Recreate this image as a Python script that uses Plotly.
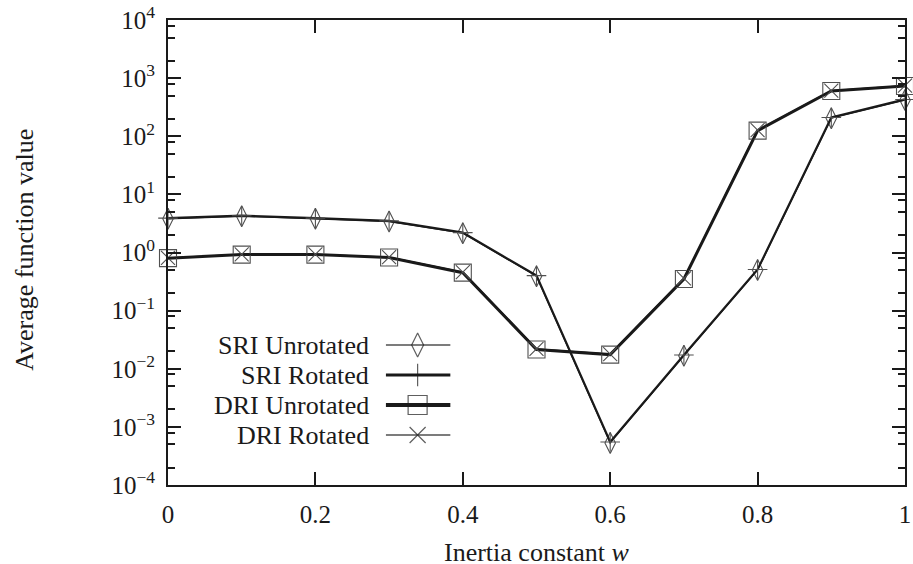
import plotly.graph_objects as go

# ---- data ----
w = [0.0, 0.1, 0.2, 0.3, 0.4, 0.5, 0.6, 0.7, 0.8, 0.9, 1.0]
sri_unrotated = [3.8, 4.2, 3.8, 3.4, 2.15, 0.39, 5.3e-4, 0.0168, 0.50, 205, 420]
sri_rotated   = [3.9, 4.3, 3.9, 3.5, 2.2, 0.40, 5.5e-4, 0.0172, 0.51, 210, 430]
dri_unrotated = [0.80, 0.92, 0.92, 0.82, 0.45, 0.0215, 0.0175, 0.35, 125, 600, 730]
dri_rotated   = [0.81, 0.93, 0.93, 0.83, 0.46, 0.0220, 0.0178, 0.36, 128, 610, 740]

series_names = ["SRI Unrotated", "SRI Rotated", "DRI Unrotated", "DRI Rotated"]
y_tick_vals = [1e-4, 1e-3, 1e-2, 1e-1, 1e0, 1e1, 1e2, 1e3, 1e4]
y_tick_text = ["10<sup>\u22124</sup>", "10<sup>\u22123</sup>", "10<sup>\u22122</sup>",
               "10<sup>\u22121</sup>", "10<sup>0</sup>", "10<sup>1</sup>",
               "10<sup>2</sup>", "10<sup>3</sup>", "10<sup>4</sup>"]
x_tick_vals = [0, 0.2, 0.4, 0.6, 0.8, 1.0]
x_tick_text = ["0", "0.2", "0.4", "0.6", "0.8", "1"]

FONT = "Liberation Serif"
BLACK = "#1a1a1a"
GREY = "#505050"

styles = [
    dict(lw=1.3, lc=BLACK, sym="diamond-tall-open", size=15, legc=GREY),
    dict(lw=2.2, lc=BLACK, sym="cross-thin-open", size=14, legc=BLACK),
    dict(lw=3.0, lc=BLACK, sym="square-open", size=17, legc=BLACK),
    dict(lw=1.3, lc=BLACK, sym="x-thin-open", size=14, legc=GREY),
]
data = [sri_unrotated, sri_rotated, dri_unrotated, dri_rotated]

fig = go.Figure()
for name, vals, st in zip(series_names, data, styles):
    fig.add_trace(go.Scatter(
        x=w, y=vals, mode="lines+markers", name=name,
        line=dict(color=st["lc"], width=st["lw"]),
        marker=dict(symbol=st["sym"], size=st["size"], color=GREY,
                    line=dict(color=GREY, width=1.1)),
        cliponaxis=False, showlegend=False,
    ))

# ---- gnuplot-style key (text left, sample right) ----
key_text_x = 0.2755
key_x = [0.2957, 0.3387, 0.3831]
key_rows_px = [345, 375, 405, 435]
for name, st, ypx in zip(series_names, styles, key_rows_px):
    yy = (485 - ypx) / 465.0
    fig.add_trace(go.Scatter(
        x=key_x, y=[yy] * 3, mode="lines+markers", yaxis="y2",
        line=dict(color=st["legc"], width=st["lw"] + (0.8 if st["lw"] >= 2 else 0)),
        marker=dict(symbol=st["sym"], size=[0, st["size"] + 2, 0], color=BLACK,
                    line=dict(color=BLACK, width=1.2)),
        cliponaxis=False, showlegend=False, hoverinfo="skip",
    ))
    fig.add_annotation(x=key_text_x, y=yy, xref="x", yref="y2", text=name,
                       showarrow=False, xanchor="right", yanchor="middle",
                       font=dict(family=FONT, size=26, color=BLACK))

fig.add_annotation(x=0.5, y=-0.145, xref="paper", yref="paper",
                   text="Inertia constant <i>w</i>", showarrow=False,
                   xanchor="center", yanchor="middle",
                   font=dict(family=FONT, size=26, color=BLACK))
fig.add_annotation(x=-0.1945, y=0.505, xref="paper", yref="paper",
                   text="Average function value", showarrow=False, textangle=-90,
                   xanchor="center", yanchor="middle",
                   font=dict(family=FONT, size=26, color=BLACK))

minor_vals = []
for e in range(-4, 4):
    for m in (2, 5, 8):
        minor_vals.append(m * 10 ** e)

fig.update_layout(
    width=913, height=564,
    margin=dict(l=168, r=2, t=20, b=79),
    paper_bgcolor="white", plot_bgcolor="white",
    font=dict(family=FONT, size=25, color=BLACK),
    xaxis=dict(range=[0, 1], tickmode="array", tickvals=x_tick_vals, ticktext=x_tick_text,
               ticks="inside", ticklen=13, tickwidth=2, tickcolor=BLACK,
               showline=True, linecolor=BLACK, linewidth=2, mirror="ticks",
               showgrid=False, zeroline=False, ticklabelstandoff=6,
               ticklabeloverflow="allow",
               tickfont=dict(family=FONT, size=25, color=BLACK)),
    yaxis=dict(type="log", range=[-4, 4], tickmode="array", tickvals=y_tick_vals,
               ticktext=y_tick_text, ticks="inside", ticklen=13, tickwidth=2,
               tickcolor=BLACK, showline=True, linecolor=BLACK, linewidth=2,
               mirror="ticks", showgrid=False, zeroline=False, ticklabelstandoff=6,
               tickfont=dict(family=FONT, size=25, color=BLACK),
               minor=dict(tickmode="array", tickvals=minor_vals, ticks="inside",
                          ticklen=7, tickwidth=2, tickcolor=BLACK, showgrid=False)),
    yaxis2=dict(overlaying="y", range=[0, 1], visible=False, fixedrange=True),
)

fig.write_html("out.html", config={"displayModeBar": False},
               post_script="document.body.style.margin='0';document.body.style.overflow='hidden';")
